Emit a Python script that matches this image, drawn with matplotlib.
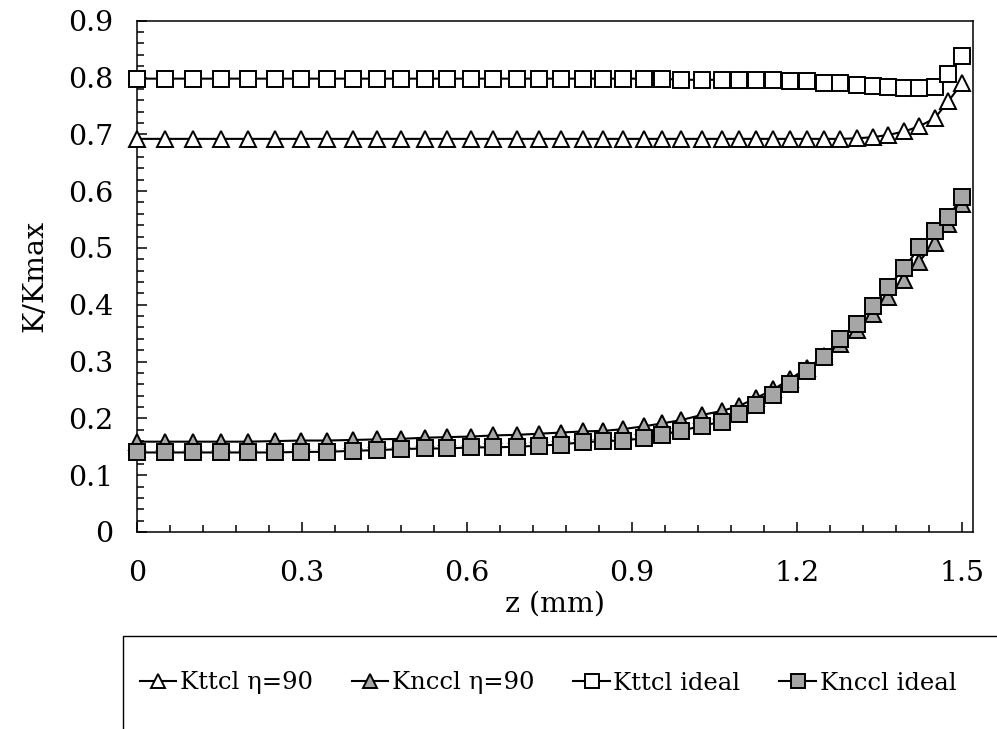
import matplotlib
matplotlib.use("Agg")
import matplotlib.pyplot as plt
from matplotlib.patches import Rectangle
from matplotlib.ticker import MultipleLocator, FixedLocator

plt.rcParams['font.family'] = ['DejaVu Serif', 'DejaVu Sans']

z = [0.000, 0.051, 0.101, 0.152, 0.201, 0.250, 0.298, 0.345, 0.392, 0.436,
     0.480, 0.524, 0.564, 0.607, 0.648, 0.690, 0.731, 0.770, 0.810, 0.848,
     0.883, 0.921, 0.954, 0.989, 1.027, 1.063, 1.095, 1.126, 1.157, 1.187,
     1.219, 1.249, 1.279, 1.309, 1.338, 1.366, 1.395, 1.422, 1.450, 1.475,
     1.500]

kttcl_90 = [0.692] * 33 + [0.693, 0.695, 0.699, 0.705, 0.714, 0.728, 0.758, 0.790]

knccl_90 = [0.159, 0.159, 0.159, 0.159, 0.159, 0.160, 0.161, 0.161, 0.162, 0.163,
            0.164, 0.166, 0.167, 0.168, 0.170, 0.171, 0.173, 0.175, 0.177, 0.178,
            0.181, 0.186, 0.191, 0.197, 0.206, 0.213, 0.222, 0.236, 0.251, 0.269,
            0.289, 0.309, 0.331, 0.356, 0.384, 0.413, 0.443, 0.476, 0.508, 0.543,
            0.578]

kttcl_ideal = [0.798] * 23 + [0.796, 0.796, 0.796, 0.796, 0.795, 0.795, 0.794,
                              0.793, 0.791, 0.790, 0.787, 0.785, 0.783, 0.781,
                              0.781, 0.784, 0.806, 0.837]

knccl_ideal = [0.140, 0.140, 0.140, 0.140, 0.140, 0.140, 0.141, 0.141, 0.143, 0.144,
               0.146, 0.147, 0.147, 0.149, 0.149, 0.150, 0.152, 0.154, 0.158, 0.160,
               0.161, 0.165, 0.171, 0.178, 0.187, 0.194, 0.207, 0.224, 0.242, 0.260,
               0.283, 0.308, 0.339, 0.366, 0.397, 0.432, 0.464, 0.501, 0.530, 0.555,
               0.589]

labels = ["Kttcl η=90", "Knccl η=90", "Kttcl ideal", "Knccl ideal"]
x_ticks = [0, 0.3, 0.6, 0.9, 1.2, 1.5]
x_tick_labels = ["0", "0.3", "0.6", "0.9", "1.2", "1.5"]
y_ticks = [0, 0.1, 0.2, 0.3, 0.4, 0.5, 0.6, 0.7, 0.8, 0.9]
y_tick_labels = ["0", "0.1", "0.2", "0.3", "0.4", "0.5", "0.6", "0.7", "0.8", "0.9"]

W, H = 997, 729
fig = plt.figure(figsize=(W / 100, H / 100), dpi=100)
ax = fig.add_axes([137 / W, 1 - 532 / H, (973 - 137) / W, (532 - 20.7) / H])

gray = '#A6A6A6'
styles = [
    dict(marker='^', mfc='white'),
    dict(marker='^', mfc=gray),
    dict(marker='s', mfc='white'),
    dict(marker='s', mfc=gray),
]
series = [kttcl_90, knccl_90, kttcl_ideal, knccl_ideal]
handles = []
for ys, st, lab in zip(series, styles, labels):
    ln, = ax.plot(z, ys, color='black', lw=1.5, marker=st['marker'],
                  markersize=11, markerfacecolor=st['mfc'],
                  markeredgecolor='black', markeredgewidth=1.4,
                  clip_on=False, label=lab, zorder=3)
    handles.append(ln)

ax.set_xlim(0, (973 - 137) / 550)
ax.set_ylim(0, 0.9)
ax.xaxis.set_major_locator(FixedLocator(x_ticks))
ax.set_xticklabels(x_tick_labels)
ax.xaxis.set_minor_locator(MultipleLocator(0.06))
ax.yaxis.set_major_locator(FixedLocator(y_ticks))
ax.set_yticklabels(y_tick_labels)
ax.yaxis.set_minor_locator(MultipleLocator(0.02))

ax.tick_params(which='both', direction='in', width=1.1, top=False, right=False,
               labelsize=20.5)
ax.tick_params(which='major', length=7)
ax.tick_params(which='minor', length=5.3)
ax.tick_params(axis='x', which='major', pad=20)
ax.tick_params(axis='y', which='major', pad=17)
for sp in ax.spines.values():
    sp.set_linewidth(1.1)

ax.set_xlabel("z (mm)", fontsize=20.5, labelpad=3)
ax.set_ylabel("K/Kmax", fontsize=20.5, labelpad=14)

# legend box (cut off at right and bottom edges of the figure)
fig.patches.append(Rectangle((123 / W, -0.1), 1.0, (729 - 636) / H + 0.1,
                             transform=fig.transFigure, facecolor='none',
                             edgecolor='black', linewidth=1.0))
fig.legend(handles=handles, labels=labels, loc='center', ncol=4,
           bbox_to_anchor=(548 / W, 1 - 683 / H), frameon=False,
           fontsize=17.5, handlelength=1.5, handletextpad=0.15,
           columnspacing=1.6, markerscale=0.9)

fig.savefig("out.png", dpi=100)
